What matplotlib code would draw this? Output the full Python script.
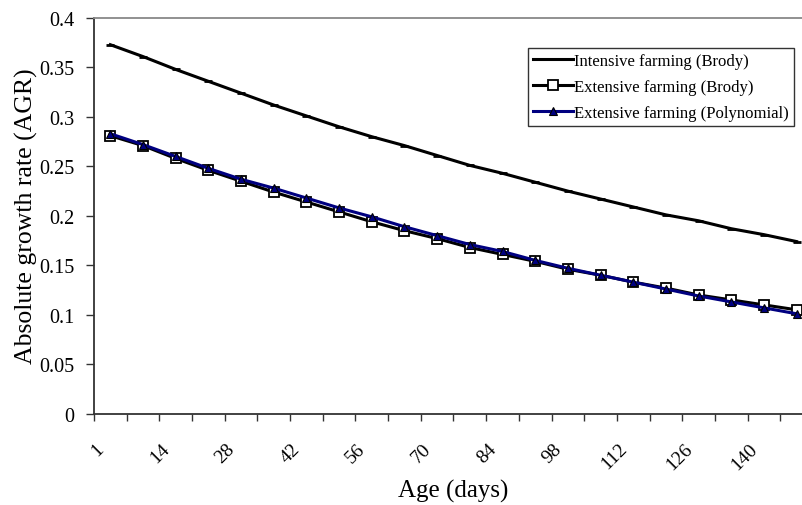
import numpy as np
import matplotlib
matplotlib.use("Agg")
import matplotlib.pyplot as plt
from matplotlib.transforms import blended_transform_factory, ScaledTranslation

plt.rcParams['font.family'] = ['Liberation Serif', 'DejaVu Serif']

# age categories (days) and growth rates
age = [1, 7, 14, 21, 28, 35, 42, 49, 56, 63, 70, 77, 84, 91, 98, 105, 112, 119, 126, 133, 140, 147]
age_labels = ['1', '14', '28', '42', '56', '70', '84', '98', '112', '126', '140']

intensive_brody = [0.373, 0.361, 0.348, 0.336, 0.324, 0.312, 0.301, 0.290, 0.280, 0.271, 0.261,
                   0.251, 0.243, 0.234, 0.225, 0.217, 0.209, 0.201, 0.195, 0.187, 0.181, 0.174]
extensive_brody = [0.281, 0.271, 0.258, 0.246, 0.235, 0.224, 0.214, 0.204, 0.194, 0.185, 0.177,
                   0.168, 0.161, 0.154, 0.146, 0.140, 0.133, 0.127, 0.120, 0.115, 0.110, 0.105]
extensive_poly = [0.283, 0.272, 0.260, 0.248, 0.237, 0.228, 0.218, 0.208, 0.199, 0.189, 0.180,
                  0.171, 0.164, 0.155, 0.147, 0.140, 0.133, 0.126, 0.119, 0.113, 0.107, 0.101]

y_ticks = [0, 0.05, 0.1, 0.15, 0.2, 0.25, 0.3, 0.35, 0.4]
y_labels = ['0', '0.05', '0.1', '0.15', '0.2', '0.25', '0.3', '0.35', '0.4']

fig = plt.figure(figsize=(8.03, 5.06), dpi=100)
W, H = 803, 506
# axes runs past the right edge like the cropped original
ax = fig.add_axes([94 / W, 91.3 / H, 719 / W, 395.7 / H])

pos = np.arange(1, len(age) + 1)
ax.plot(pos, intensive_brody, color='black', lw=2.2, marker='_', ms=6, mew=2,
        label='Intensive farming (Brody)', zorder=3)
ax.plot(pos, extensive_brody, color='black', lw=2.2, marker='s', ms=7.5, mfc='white',
        mec='black', mew=1.3, label='Extensive farming (Brody)', zorder=4)
ax.plot(pos, extensive_poly, color='#000080', lw=2.2, marker='^', ms=5.5, mfc='#000080',
        mec='black', mew=0.8, label='Extensive farming (Polynomial)', zorder=5)

ax.set_xlim(0.5, len(age) + 0.5)
ax.set_ylim(0, 0.4)
ax.set_yticks(y_ticks, y_labels)
ax.tick_params(axis='y', direction='out', length=6, width=1, labelsize=14.5, pad=8, color='#333333')

# category boundaries get the tick marks, labels sit under every second category
ax.set_xticks(np.arange(0.5, len(age) + 1, 1))
ax.set_xticklabels([])
ax.tick_params(axis='x', direction='out', length=5, width=1, color='#333333')

trans = blended_transform_factory(ax.transData, ax.transAxes)
off = ScaledTranslation(-15 / 100, -26 / 100, fig.dpi_scale_trans)
for i, lab in enumerate(age_labels):
    ax.text(pos[i * 2], 0, lab, transform=trans + off, rotation=45, ha='right', va='top',
            rotation_mode='anchor', fontsize=14)

for s in ['left', 'bottom']:
    ax.spines[s].set_color('#333333')
    ax.spines[s].set_linewidth(1.3)
ax.spines['top'].set_color('#888888')
ax.spines['top'].set_linewidth(1.3)
ax.spines['right'].set_visible(False)

fig.text(26 / W, 1 - 216 / H, 'Absolute growth rate (AGR)', rotation=90, ha='center', va='center',
         fontsize=18.5)
fig.text(453 / W, 1 - 491 / H, 'Age (days)', ha='center', va='center', fontsize=18)

leg = ax.legend(loc='upper left', bbox_to_anchor=((527.7 - 94) / 719, (414.7 - 48.7) / 395.7),
                fontsize=12, frameon=True, fancybox=False, framealpha=1, edgecolor='#333333',
                handlelength=2.4, handletextpad=0.1, labelspacing=0.6, borderpad=0.3,
                borderaxespad=0)
leg.get_frame().set_linewidth(1)

fig.savefig('out.png', dpi=100)
